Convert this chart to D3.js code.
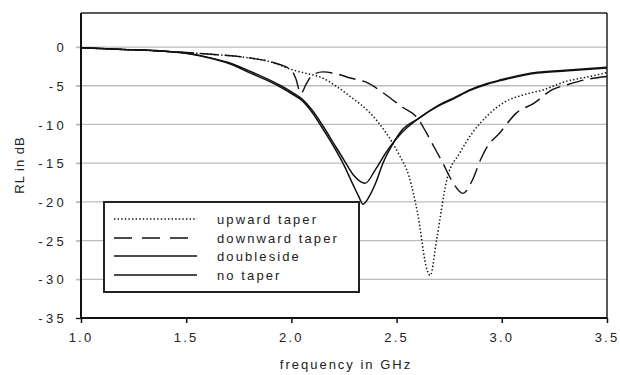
<!DOCTYPE html>
<html>
<head>
<meta charset="utf-8">
<script src="https://cdn.jsdelivr.net/npm/d3@7"></script>
<style>
  html, body { margin: 0; padding: 0; background: #fff; }
  svg text { font-family: "Liberation Sans", Arial, sans-serif; fill: #222; }
</style>
</head>
<body>
<svg id="chart" width="620" height="375"></svg>
<script>
// ---- data ----
const seriesNames = ["upward taper", "downward taper", "doubleside", "no taper"];

const upwardF  = [1.0,1.2,1.4,1.6,1.8,1.9,2.0,2.07,2.14,2.22,2.29,2.37,2.45,2.51,2.56,2.60,2.645,2.66,2.69,2.74,2.80,2.86,2.93,3.02,3.10,3.20,3.31,3.40,3.5];
const upwardRL = [-0.1,-0.3,-0.55,-0.9,-1.4,-1.9,-2.9,-3.4,-3.9,-5.2,-6.6,-8.4,-11.1,-13.8,-16.8,-21.5,-28.8,-29.5,-24.9,-17.0,-13.7,-11.1,-8.9,-7.0,-6.2,-5.5,-4.4,-3.9,-3.3];

const downwardF  = [1.0,1.2,1.4,1.6,1.8,1.9,2.0,2.02,2.045,2.07,2.1,2.15,2.22,2.28,2.36,2.42,2.48,2.53,2.6,2.64,2.67,2.72,2.77,2.815,2.86,2.9,2.93,2.99,3.07,3.15,3.24,3.32,3.4,3.5];
const downwardRL = [-0.1,-0.3,-0.55,-0.9,-1.4,-1.9,-3.0,-4.0,-6.0,-4.8,-3.6,-3.2,-3.5,-4.0,-4.6,-5.6,-6.8,-7.8,-9.2,-11.0,-12.5,-15.0,-17.6,-18.9,-17.2,-14.5,-12.9,-11.1,-8.5,-7.3,-5.5,-4.8,-4.2,-3.8];

const doublesideF  = [1.0,1.2,1.4,1.5,1.6,1.7,1.8,1.9,1.95,2.0,2.05,2.1,2.15,2.2,2.245,2.29,2.32,2.34,2.37,2.4,2.435,2.48,2.53,2.6,2.7,2.77,2.85,2.93,3.0,3.13,3.2,3.3,3.4,3.5];
const doublesideRL = [-0.1,-0.3,-0.55,-0.8,-1.35,-2.1,-3.3,-4.5,-5.2,-6.0,-6.9,-8.5,-10.6,-12.8,-15.0,-17.6,-19.3,-20.3,-19.3,-17.6,-15.0,-12.6,-10.6,-9.3,-7.5,-6.6,-5.5,-4.7,-4.2,-3.4,-3.2,-3.0,-2.8,-2.6];

const noTaperF  = [1.0,1.2,1.4,1.5,1.6,1.7,1.8,1.9,1.95,2.0,2.05,2.1,2.15,2.2,2.25,2.3,2.35,2.4,2.45,2.5,2.55,2.6,2.7,2.77,2.85,2.93,3.0,3.13,3.2,3.3,3.4,3.5];
const noTaperRL = [-0.1,-0.3,-0.55,-0.8,-1.3,-2.0,-3.1,-4.3,-5.0,-5.8,-6.7,-8.2,-10.2,-12.4,-14.6,-16.7,-17.6,-15.8,-13.6,-11.8,-10.4,-9.3,-7.6,-6.7,-5.6,-4.8,-4.3,-3.5,-3.3,-3.1,-2.9,-2.7];

const xTicks = [1.0, 1.5, 2.0, 2.5, 3.0, 3.5];
const yTicks = [0, -5, -10, -15, -20, -25, -30, -35];
const xLabel = "frequency in GHz";
const yLabel = "RL in dB";

// ---- layout ----
const svg = d3.select("#chart");
const pLeft = 81, pRight = 607, pTop = 13, pBottom = 318;
const x = d3.scaleLinear().domain([1.0, 3.5]).range([pLeft, pRight]);
const y = d3.scaleLinear().domain([-35, 4.4]).range([pBottom, pTop]);

// gridlines (+ outward gray ticks)
svg.append("g").selectAll("line")
  .data(yTicks.filter(d => d > -35))
  .join("line")
  .attr("x1", pLeft - 5).attr("x2", pRight)
  .attr("y1", d => y(d)).attr("y2", d => y(d))
  .attr("stroke", "#bdbdbd").attr("stroke-width", 1.3);

// y axis
const yAxis = d3.axisLeft(y).tickValues(yTicks).tickSize(5).tickSizeOuter(0)
  .tickFormat(d => d === 0 ? "0" : "-" + Math.abs(d));
const gy = svg.append("g").attr("transform", `translate(${pLeft},0)`).call(yAxis);
gy.select(".domain").remove();
gy.selectAll(".tick line").attr("stroke", d => d === -35 ? "#111" : "#bdbdbd").attr("stroke-width", 1.3);
gy.selectAll(".tick text").attr("x", -14).attr("dy", "0.36em")
  .attr("font-size", 13).style("letter-spacing", "3.3px").attr("fill", "#333")
  .style("font-family", "'Liberation Sans', Arial, sans-serif");

// x axis
const xAxis = d3.axisBottom(x).tickValues(xTicks).tickSize(5).tickSizeOuter(0)
  .tickFormat(d3.format(".1f"));
const gx = svg.append("g").attr("transform", `translate(0,${pBottom})`).call(xAxis);
gx.select(".domain").remove();
gx.selectAll(".tick line").attr("stroke", "#111").attr("stroke-width", 1.5);
gx.selectAll(".tick text").attr("y", 15).attr("dy", "0.71em")
  .attr("font-size", 13).style("letter-spacing", "2.2px").attr("dx", -0.5).attr("fill", "#333")
  .style("font-family", "'Liberation Sans', Arial, sans-serif");

// frame
svg.append("line").attr("x1", pLeft).attr("x2", pRight).attr("y1", pTop).attr("y2", pTop)
  .attr("stroke", "#222").attr("stroke-width", 1.5);
svg.append("line").attr("x1", pRight).attr("x2", pRight).attr("y1", pTop).attr("y2", pBottom)
  .attr("stroke", "#222").attr("stroke-width", 1.5);
svg.append("line").attr("x1", pLeft).attr("x2", pLeft).attr("y1", pTop).attr("y2", pBottom + 0.8)
  .attr("stroke", "#111").attr("stroke-width", 2);
svg.append("line").attr("x1", pLeft).attr("x2", pRight).attr("y1", pBottom).attr("y2", pBottom)
  .attr("stroke", "#111").attr("stroke-width", 2);

// curves
const line = d3.line().x(d => x(d[0])).y(d => y(d[1])).curve(d3.curveMonotoneX);
const series = [
  { name: seriesNames[0], f: upwardF, rl: upwardRL, dash: "1.4,2.2", w: 1.5 },
  { name: seriesNames[1], f: downwardF, rl: downwardRL, dash: "17,7", w: 1.4 },
  { name: seriesNames[2], f: doublesideF, rl: doublesideRL, dash: null, w: 1.5 },
  { name: seriesNames[3], f: noTaperF, rl: noTaperRL, dash: null, w: 1.5 }
];
svg.append("clipPath").attr("id", "clip").append("rect")
  .attr("x", pLeft).attr("y", pTop).attr("width", pRight - pLeft).attr("height", pBottom - pTop);
svg.append("g").attr("clip-path", "url(#clip)").selectAll("path")
  .data(series).join("path")
  .attr("d", s => line(s.f.map((f, i) => [f, s.rl[i]])))
  .attr("fill", "none").attr("stroke", "#111")
  .attr("stroke-width", s => s.w)
  .attr("stroke-dasharray", s => s.dash);

// legend
const lg = svg.append("g");
lg.append("rect").attr("x", 104).attr("y", 202).attr("width", 255).attr("height", 90)
  .attr("fill", "#fff").attr("stroke", "#222").attr("stroke-width", 2);
const rowY = [219, 238, 256, 275];
const legendDash = ["1.4,2.2", "18,10", null, null];
series.forEach((s, i) => {
  lg.append("line").attr("x1", 114).attr("x2", 197).attr("y1", rowY[i]).attr("y2", rowY[i])
    .attr("stroke", "#111").attr("stroke-width", s.w).attr("stroke-dasharray", legendDash[i]);
  lg.append("text").attr("x", 217).attr("y", rowY[i] + 4.5).text(s.name)
    .attr("font-size", 13).style("letter-spacing", "2.1px").attr("fill", "#333");
});

// axis titles
svg.append("text").attr("x", (pLeft + pRight) / 2 + 2).attr("y", 369).attr("text-anchor", "middle")
  .attr("font-size", 13).style("letter-spacing", "2px").attr("fill", "#333").text(xLabel);
svg.append("text").attr("transform", "translate(24,165) rotate(-90)").attr("text-anchor", "middle")
  .attr("font-size", 13).style("letter-spacing", "1px").attr("fill", "#333").text(yLabel);
</script>
</body>
</html>
